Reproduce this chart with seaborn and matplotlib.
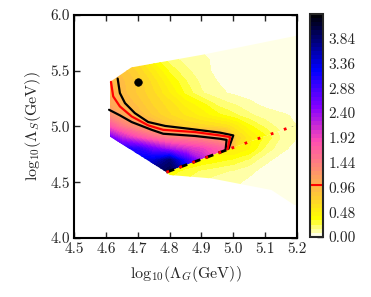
import numpy as np
import matplotlib
matplotlib.use("Agg")
import matplotlib.pyplot as plt
from matplotlib.patches import Polygon
import seaborn as sns

# grid of the field above the dashed/dotted boundary
upper_x = [4.60, 4.65, 4.70, 4.75, 4.80, 4.85, 4.90, 4.95, 4.98, 5.01, 5.05, 5.10, 5.15, 5.20]
upper_y = [4.5, 4.6, 4.7, 4.8, 4.9, 5.0, 5.1, 5.2, 5.3, 5.4, 5.5, 5.6, 5.7, 5.8, 5.9]
upper_z = [
    [3.3, 3.3, 3.5, 3.8, 4.0, 3.5, 2.5, 1.9, 1.7, 0.6, 0.45, 0.3, 0.15, 0.1],
    [3.3, 3.3, 3.5, 3.8, 4.0, 3.5, 2.5, 1.9, 1.7, 0.6, 0.45, 0.3, 0.15, 0.1],
    [3.3, 3.3, 3.3, 3.4, 3.8, 3.0, 2.3, 1.9, 1.7, 0.6, 0.45, 0.3, 0.15, 0.1],
    [3.1, 3.1, 3.0, 2.6, 2.3, 2.1, 1.95, 1.75, 1.6, 0.6, 0.45, 0.3, 0.18, 0.12],
    [2.8, 2.2, 1.85, 1.6, 1.45, 1.4, 1.35, 1.25, 1.1, 0.7, 0.5, 0.35, 0.2, 0.1],
    [1.9, 1.5, 1.25, 1.05, 0.85, 0.72, 0.68, 0.64, 0.6, 0.5, 0.35, 0.22, 0.12, 0.08],
    [1.4, 1.1, 0.95, 0.78, 0.65, 0.55, 0.45, 0.35, 0.3, 0.25, 0.18, 0.12, 0.09, 0.07],
    [1.15, 1.0, 0.85, 0.7, 0.6, 0.45, 0.35, 0.22, 0.18, 0.15, 0.1, 0.06, 0.05, 0.04],
    [1.05, 0.92, 0.78, 0.65, 0.48, 0.3, 0.17, 0.11, 0.08, 0.06, 0.05, 0.04, 0.03, 0.03],
    [1.0, 0.9, 0.78, 0.6, 0.4, 0.25, 0.14, 0.08, 0.06, 0.05, 0.04, 0.03, 0.03, 0.03],
    [0.95, 0.85, 0.7, 0.5, 0.3, 0.18, 0.12, 0.05, 0.04, 0.04, 0.03, 0.03, 0.03, 0.03],
    [0.8, 0.75, 0.6, 0.35, 0.2, 0.13, 0.11, 0.05, 0.04, 0.04, 0.03, 0.03, 0.03, 0.03],
    [0.8, 0.72, 0.55, 0.32, 0.17, 0.12, 0.07, 0.04, 0.03, 0.03, 0.03, 0.03, 0.03, 0.03],
    [0.8, 0.7, 0.5, 0.3, 0.15, 0.1, 0.06, 0.04, 0.03, 0.03, 0.03, 0.03, 0.03, 0.03],
    [0.8, 0.7, 0.5, 0.3, 0.15, 0.1, 0.06, 0.04, 0.03, 0.03, 0.03, 0.03, 0.03, 0.03],
]

# grid of the field below the boundary
lower_x = [4.75, 4.80, 4.85, 4.90, 4.95, 5.00, 5.05, 5.10, 5.15, 5.20]
lower_y = [4.3, 4.4, 4.5, 4.6, 4.7, 4.8, 4.9, 5.0, 5.1]
lower_z = [
    [0.2, 0.2, 0.15, 0.1, 0.08, 0.06, 0.04, 0.03, 0.03, 0.03],
    [0.25, 0.25, 0.18, 0.12, 0.1, 0.08, 0.05, 0.03, 0.03, 0.03],
    [0.3, 0.3, 0.22, 0.15, 0.12, 0.1, 0.06, 0.04, 0.03, 0.03],
    [0.35, 0.35, 0.3, 0.22, 0.18, 0.15, 0.1, 0.05, 0.03, 0.03],
    [0.4, 0.4, 0.4, 0.4, 0.35, 0.3, 0.22, 0.1, 0.05, 0.03],
    [0.4, 0.4, 0.4, 0.4, 0.45, 0.5, 0.4, 0.22, 0.1, 0.05],
    [0.4, 0.4, 0.4, 0.4, 0.45, 0.55, 0.42, 0.3, 0.15, 0.08],
    [0.4, 0.4, 0.4, 0.4, 0.45, 0.5, 0.35, 0.22, 0.12, 0.08],
    [0.4, 0.4, 0.4, 0.4, 0.4, 0.5, 0.35, 0.22, 0.12, 0.08],
]

# outline of the scanned region, split along the boundary
upper_edge_x = [4.613, 4.613, 4.68, 4.906, 5.2, 5.2, 4.984, 4.79]
upper_edge_y = [4.91, 5.40, 5.53, 5.645, 5.815, 5.015, 4.795, 4.59]
lower_edge_x = [4.79, 4.984, 5.2, 5.2, 5.12, 4.93, 4.80]
lower_edge_y = [4.59, 4.795, 5.015, 4.28, 4.43, 4.535, 4.565]

# curves
black_up_x = [4.637, 4.644, 4.660, 4.691, 4.733, 4.786, 4.874, 4.958, 5.0, 4.985]
black_up_y = [5.43, 5.30, 5.21, 5.12, 5.04, 5.005, 4.975, 4.945, 4.92, 4.80]
red_x = [4.616, 4.623, 4.644, 4.681, 4.733, 4.78, 4.88, 4.958, 4.99, 4.982]
red_y = [5.40, 5.27, 5.18, 5.09, 5.01, 4.97, 4.95, 4.92, 4.905, 4.795]
black_lo_x = [4.610, 4.644, 4.681, 4.744, 4.78, 4.88, 4.958, 4.979, 4.976]
black_lo_y = [5.15, 5.10, 5.04, 4.97, 4.935, 4.915, 4.89, 4.88, 4.795]
dash_x = [4.79, 4.984]
dash_y = [4.59, 4.795]
dot_line_x = [4.79, 4.984, 5.2]
dot_line_y = [4.59, 4.795, 5.015]
point_x = [4.70]
point_y = [5.40]

red_level = 1.0
levels = np.linspace(0, 4.32, 55)
cbar_ticks = np.arange(0, 3.85, 0.48)

sns.set_style("ticks")
plt.rcParams["font.family"] = ["serif"]
plt.rcParams["font.serif"] = ["cmr10", "DejaVu Serif"]
plt.rcParams["mathtext.fontset"] = "cm"
plt.rcParams["axes.formatter.use_mathtext"] = True

fig = plt.figure(figsize=(3.71, 2.97), dpi=100)
ax = fig.add_axes([0.1995, 0.1987, 0.601, 0.7508])
cax = fig.add_axes([0.8356, 0.202, 0.035, 0.751])

cmap = plt.get_cmap("gnuplot2_r")
cs = ax.contourf(upper_x, upper_y, upper_z, levels=levels, cmap=cmap)
cs.set_clip_path(Polygon(np.column_stack([upper_edge_x, upper_edge_y]), transform=ax.transData))
cs2 = ax.contourf(lower_x, lower_y, lower_z, levels=levels, cmap=cmap)
cs2.set_clip_path(Polygon(np.column_stack([lower_edge_x, lower_edge_y]), transform=ax.transData))

sns.lineplot(x=black_up_x, y=black_up_y, sort=False, estimator=None, color="black", lw=1.6, ax=ax)
sns.lineplot(x=black_lo_x, y=black_lo_y, sort=False, estimator=None, color="black", lw=1.6, ax=ax)
sns.lineplot(x=red_x, y=red_y, sort=False, estimator=None, color="red", lw=1.6, ax=ax)
ax.plot(dash_x, dash_y, color="black", ls="--", lw=2, dashes=(3, 2))
ax.plot(dot_line_x, dot_line_y, color="red", ls=":", lw=2, dashes=(1, 4))
sns.scatterplot(x=point_x, y=point_y, color="black", s=30, edgecolor="black", ax=ax, zorder=5)

ax.set_xlim(4.5, 5.2)
ax.set_ylim(4.0, 6.0)
ax.set_xticks(np.arange(4.5, 5.21, 0.1))
ax.set_yticks(np.arange(4.0, 6.01, 0.5))
ax.set_xticklabels(["%.1f" % v for v in np.arange(4.5, 5.21, 0.1)])
ax.set_yticklabels(["%.1f" % v for v in np.arange(4.0, 6.01, 0.5)])
ax.tick_params(axis="both", which="both", direction="in", top=True, right=True,
               length=4, width=1, labelsize=11, pad=3)
for s in ax.spines.values():
    s.set_linewidth(1.5)
    s.set_color("black")
ax.set_xlabel(r"$\mathrm{log}_{10}(\Lambda_G(\mathrm{GeV}))$", fontsize=11.5, labelpad=6)
ax.set_ylabel(r"$\mathrm{log}_{10}(\Lambda_S(\mathrm{GeV}))$", fontsize=11.5, labelpad=5)

cbar = fig.colorbar(cs, cax=cax, ticks=cbar_ticks)
cbar.ax.set_yticklabels(["%.2f" % t for t in cbar_ticks])
cbar.ax.tick_params(direction="in", length=4, width=1, labelsize=11, pad=4)
cbar.outline.set_linewidth(1.5)
cbar.add_lines([red_level], ["red"], [1.5])

fig.savefig("out.png", dpi=100)
